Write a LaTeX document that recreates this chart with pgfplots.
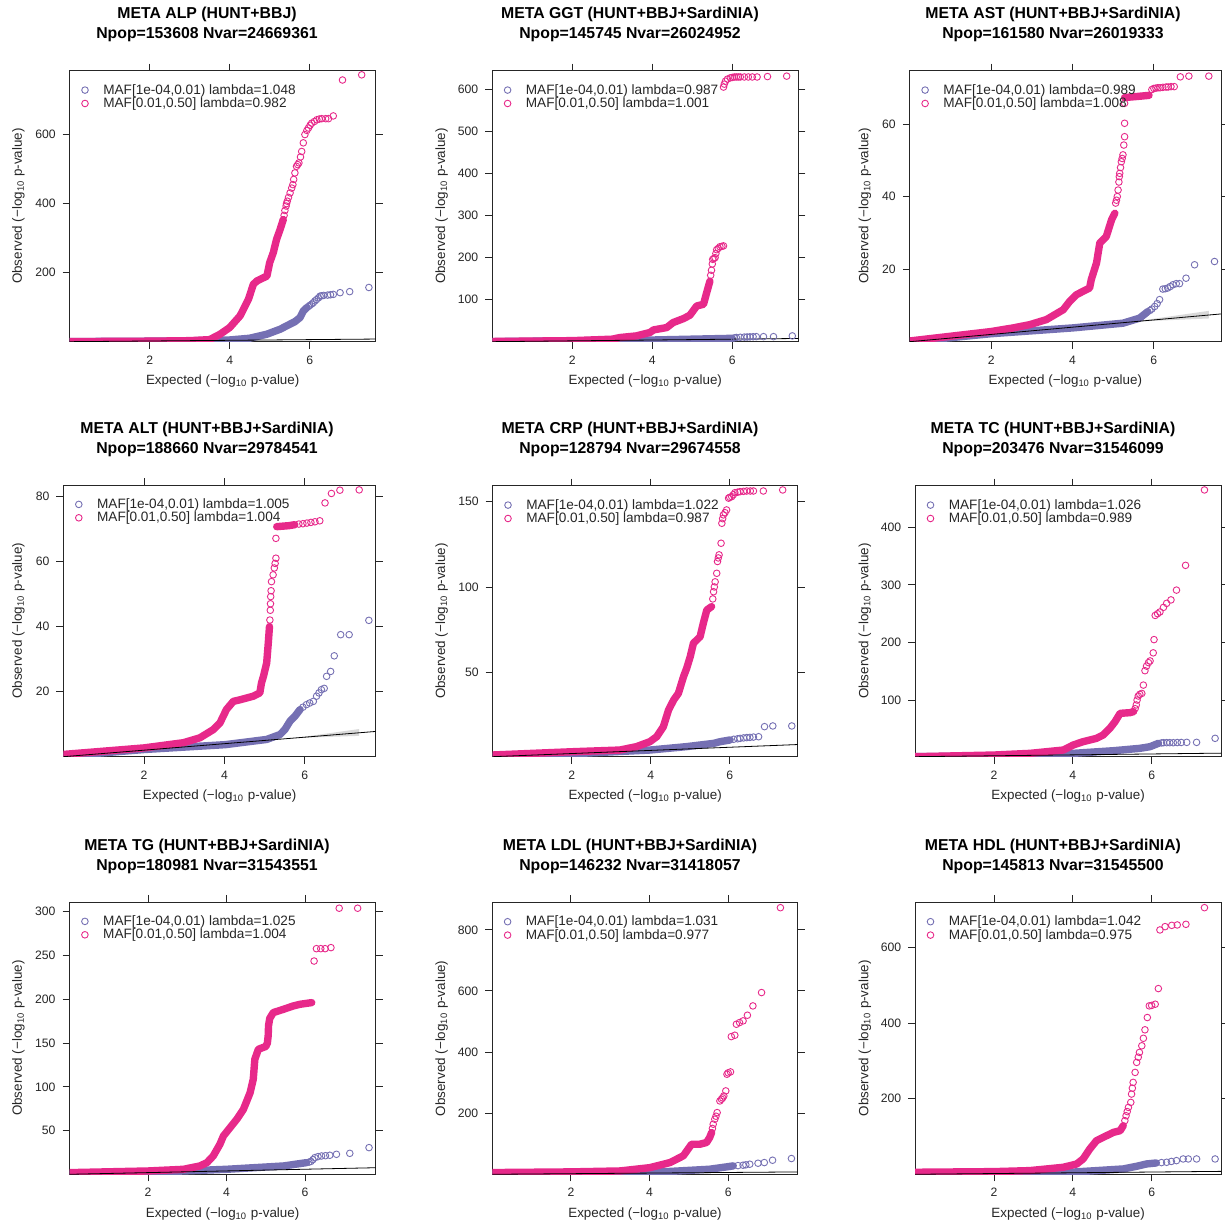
\documentclass[border=0pt]{standalone}
\usepackage{fontspec}
\setmainfont{Liberation Sans}
\usepackage{pgfplots}
\pgfplotsset{compat=1.18}
\definecolor{purp}{HTML}{7570B3}
\definecolor{pinkc}{HTML}{E7298A}
\pgfplotsset{
  qq/.style={
    scale only axis,
    xmin=0,
    xtick={2,4,6},
    tick align=outside,
    major tick length=3.5pt,
    tick style={black!85, line width=0.45pt},
    axis line style={black!85, line width=0.45pt},
    every tick label/.append style={font=\fontsize{6.1}{7}\selectfont, text=black!85},
    /pgf/number format/assume math mode=true,
    scaled ticks=false,
    xlabel={Expected (−log\textsubscript{10} p-value)},
    ylabel={Observed (−log\textsubscript{10} p-value)},
    label style={font=\fontsize{6.7}{8}\selectfont, text=black!85},
    xlabel style={at={(axis description cs:0.5,0)}, anchor=base, yshift=-21.65pt},
    ylabel style={at={(axis description cs:0,0.5)}, anchor=center},
    legend cell align=left,
    legend style={at={(axis description cs:0,1)}, anchor=north west, xshift=6pt, yshift=-6.9pt,
      draw=none, fill=none, inner sep=0pt, outer sep=0pt, row sep=0.5pt, column sep=7.5pt,
      font=\fontsize{6.8}{8}\selectfont, text=black!85,
      nodes={inner sep=0pt, text height=4.8pt, text depth=1.4pt}},
  },
  dense/.style={line width=3.7pt, line join=round, line cap=round, no marks},
  sparse/.style={only marks, mark=o, mark size=1.65pt, mark options={line width=0.45pt}},
  legimg/.style={legend image code/.code={\draw[mark repeat=1,##1] plot coordinates {(1.5pt,0.3pt)};}},
  refl/.style={black, line width=0.4pt, forget plot},
  band/.style={fill=black!15, draw=none, forget plot},
}
\begin{document}
\begin{tikzpicture}
\path[use as bounding box] (0,0) rectangle (612.5pt,613pt);
\tikzset{ttl/.style={anchor=base, font=\bfseries\fontsize{7.9}{9}\selectfont}}
% ---------- titles ----------
\node[ttl] at (103.5pt,603.85pt) {META ALP (HUNT+BBJ)};
\node[ttl] at (103.5pt,593.85pt) {Npop=153608 Nvar=24669361};
\node[ttl] at (315pt,603.85pt) {META GGT (HUNT+BBJ+SardiNIA)};
\node[ttl] at (315pt,593.85pt) {Npop=145745 Nvar=26024952};
\node[ttl] at (526.5pt,603.85pt) {META AST (HUNT+BBJ+SardiNIA)};
\node[ttl] at (526.5pt,593.85pt) {Npop=161580 Nvar=26019333};
\node[ttl] at (103.5pt,396pt) {META ALT (HUNT+BBJ+SardiNIA)};
\node[ttl] at (103.5pt,386.25pt) {Npop=188660 Nvar=29784541};
\node[ttl] at (315pt,396pt) {META CRP (HUNT+BBJ+SardiNIA)};
\node[ttl] at (315pt,386.25pt) {Npop=128794 Nvar=29674558};
\node[ttl] at (526.5pt,396pt) {META TC (HUNT+BBJ+SardiNIA)};
\node[ttl] at (526.5pt,386.25pt) {Npop=203476 Nvar=31546099};
\node[ttl] at (103.5pt,187.5pt) {META TG (HUNT+BBJ+SardiNIA)};
\node[ttl] at (103.5pt,177.5pt) {Npop=180981 Nvar=31543551};
\node[ttl] at (315pt,187.5pt) {META LDL (HUNT+BBJ+SardiNIA)};
\node[ttl] at (315pt,177.5pt) {Npop=146232 Nvar=31418057};
\node[ttl] at (526.5pt,187.5pt) {META HDL (HUNT+BBJ+SardiNIA)};
\node[ttl] at (526.5pt,177.5pt) {Npop=145813 Nvar=31545500};

% ---------- P1 ALP ----------
\begin{axis}[qq, at={(34.85pt,442.15pt)}, width=153pt, height=135.5pt, xmax=7.65, ymin=0, ymax=785,
  ytick={200,400,600}, ylabel style={yshift=25.7pt}]
\addplot[purp, dense, forget plot] coordinates {(0,0.3)(2,1.5)(3,2.5)(4,5)(4.5,10)(4.93,21.7)(5.26,36)(5.51,51)(5.63,58)(5.76,70)(5.84,89)(5.93,99)};
\addplot[purp, sparse, forget plot] coordinates {(5.97,102)(6.0,105)(6.05,109)(6.09,113)(6.13,118)(6.17,122)(6.22,127)(6.26,132)(6.3,133)(6.35,134)(6.45,135)(6.52,136)(6.59,137)(6.76,142)(7.0,145)(7.48,157)};
\addplot[pinkc, dense, forget plot] coordinates {(0,0.3)(1,0.8)(2,1.5)(3,3)(3.5,6)(3.76,21.7)(4.0,41)(4.26,75)(4.47,123)(4.59,166)(4.68,176)(4.93,190)(5.0,229)(5.09,258)(5.17,296)(5.26,325)(5.34,354)};
\addplot[pinkc, sparse, forget plot] coordinates {(5.36,366)(5.38,380)(5.41,393)(5.42,400)(5.44,407)(5.47,418)(5.51,431)(5.55,445)(5.58,455)(5.6,470)(5.63,489)(5.67,508)(5.7,513)(5.73,518)(5.77,535)(5.8,551)(5.84,576)(5.88,600)(5.93,612)(5.97,619)(6.01,627)(6.05,633)(6.12,638)(6.18,643)(6.24,645)(6.3,646)(6.4,646)(6.47,646)(6.59,654)(6.82,758)(7.3,773)};
\addplot[refl] coordinates {(0,0)(7.65,7.65)};
\addlegendimage{purp, sparse, legimg}\addlegendentry{MAF[1e-04,0.01) lambda=1.048}
\addlegendimage{pinkc, sparse, legimg}\addlegendentry{MAF[0.01,0.50] lambda=0.982}
\end{axis}

% ---------- P2 GGT ----------
\begin{axis}[qq, at={(246.15pt,442.15pt)}, width=153pt, height=135.5pt, xmax=7.65, ymin=0, ymax=645,
  ytick={100,200,300,400,500,600}, ylabel style={yshift=25.3pt}]
\addplot[purp, dense, forget plot] coordinates {(0,0.3)(2,2)(4,4)(5,6)(6,8)};
\addplot[purp, sparse, forget plot] coordinates {(6.05,9)(6.1,10)(6.2,10.5)(6.3,11)(6.37,11.2)(6.44,11.5)(6.52,11.8)(6.6,12)(6.78,12)(7.03,12)(7.5,13.8)};
\addplot[pinkc, dense, forget plot] coordinates {(0,0.5)(1,1.5)(2,2.5)(3,6)(3.19,9.9)(3.6,13.8)(3.94,21.8)(4.03,28)(4.36,33.6)(4.52,45.5)(4.78,55)(4.94,63)(5.11,85)(5.28,89)(5.36,117)(5.44,144)};
\addplot[pinkc, sparse, forget plot] coordinates {(5.46,158)(5.48,170)(5.5,185)(5.51,196)(5.54,198)(5.57,200)(5.59,210)(5.61,219)(5.65,222)(5.69,226)(5.74,227)(5.78,228)(5.78,606)(5.8,613)(5.83,620)(5.88,625)(5.95,628)(6.0,629)(6.05,630)(6.1,630)(6.15,630)(6.2,630)(6.3,630)(6.4,630)(6.5,630)(6.62,630)(6.88,631)(7.36,632)};
\addplot[refl] coordinates {(0,0)(7.65,7.65)};
\addlegendimage{purp, sparse, legimg}\addlegendentry{MAF[1e-04,0.01) lambda=0.987}
\addlegendimage{pinkc, sparse, legimg}\addlegendentry{MAF[0.01,0.50] lambda=1.001}
\end{axis}

% ---------- P3 AST ----------
\begin{axis}[qq, at={(454.9pt,442.15pt)}, width=155.6pt, height=135.5pt, xmax=7.65, ymin=0, ymax=74.7,
  ytick={20,40,60}, ylabel style={yshift=22.4pt}]
\addplot[band] coordinates {(5.7,5.6)(7.35,6.4)(7.35,8.5)(5.7,5.85)} -- cycle;
\addplot[purp, dense, forget plot] coordinates {(0,0)(2,2.2)(4.01,3.8)(5.24,5.1)(5.65,6.5)(5.85,8.3)};
\addplot[purp, sparse, forget plot] coordinates {(5.9,8.6)(5.95,9)(6.02,9.7)(6.08,10.5)(6.14,11.6)(6.22,14.5)(6.28,14.6)(6.34,14.8)(6.4,15.2)(6.47,15.7)(6.55,16)(6.63,16)(6.79,17.5)(7.0,21.2)(7.49,22.1)};
\addplot[pinkc, dense, forget plot] coordinates {(0,0.2)(1.31,1.9)(2,2.8)(2.54,3.8)(2.95,4.7)(3.36,6.1)(3.77,8.8)(3.93,11.1)(4.09,12.9)(4.26,13.9)(4.42,14.8)(4.46,17.1)(4.59,21.7)(4.67,27.2)(4.83,29)(4.96,33.6)(5.04,35.4)};
\addplot[pinkc, dense, forget plot] coordinates {(5.28,67.3)(5.6,67.6)(5.88,67.9)};
\addplot[pinkc, sparse, forget plot] coordinates {(5.06,38.2)(5.08,39)(5.1,40)(5.12,41.8)(5.14,44)(5.15,45.5)(5.16,46.4)(5.18,48)(5.2,49.6)(5.22,50.5)(5.24,51.5)(5.26,54.2)(5.28,56.5)(5.28,60.2)(5.28,65.7)(5.95,69.5)(6.0,69.8)(6.05,69.9)(6.1,70)(6.15,70)(6.22,70.1)(6.3,70.2)(6.35,70.2)(6.42,70.3)(6.5,70.3)(6.65,73)(6.86,73.2)(7.35,73.2)};
\addplot[refl] coordinates {(0,0)(7.65,7.65)};
\addlegendimage{purp, sparse, legimg}\addlegendentry{MAF[1e-04,0.01) lambda=0.989}
\addlegendimage{pinkc, sparse, legimg}\addlegendentry{MAF[0.01,0.50] lambda=1.008}
\end{axis}

% ---------- P4 ALT ----------
\begin{axis}[qq, at={(31.75pt,234.65pt)}, width=156.1pt, height=135.85pt, xmax=7.76, ymin=0, ymax=83.5,
  ytick={20,40,60,80}, ylabel style={yshift=22.6pt}]
\addplot[band] coordinates {(5.9,5.8)(7.35,6.4)(7.35,8.5)(5.9,6.0)} -- cycle;
\addplot[purp, dense, forget plot] coordinates {(0,0.2)(2,2.2)(4.02,3.7)(5.05,5.3)(5.38,6.8)(5.5,8.3)(5.63,10.9)(5.75,12.4)(5.88,14.5)};
\addplot[purp, sparse, forget plot] coordinates {(5.95,15.2)(6.04,16)(6.12,16.5)(6.21,17)(6.29,18.6)(6.35,19.6)(6.41,20.6)(6.48,21)(6.54,24.7)(6.64,26.2)(6.73,31)(6.89,37.5)(7.1,37.5)(7.59,41.9)};
\addplot[pinkc, dense, forget plot] coordinates {(0,0.7)(1,1.7)(2,2.7)(2.98,4.3)(3.39,5.8)(3.72,8.3)(3.89,10.4)(4.05,14.5)(4.22,17)(4.39,17.5)(4.72,18.6)(4.88,19.6)(4.92,22.6)(4.97,24.7)(5.05,28.8)(5.09,34.9)(5.12,40)};
\addplot[pinkc, dense, forget plot] coordinates {(5.3,70.7)(5.6,71)(5.75,71.3)};
\addplot[pinkc, sparse, forget plot] coordinates {(5.13,42)(5.14,45)(5.145,47)(5.15,49.2)(5.16,51)(5.17,53.8)(5.21,55.9)(5.24,58)(5.26,59.4)(5.28,61)(5.28,67.1)(5.85,71.5)(5.95,71.6)(6.05,71.8)(6.15,72)(6.25,72.2)(6.37,72.5)(6.5,78)(6.66,80.9)(6.87,81.9)(7.35,82)};
\addplot[refl] coordinates {(0,0)(7.76,7.76)};
\addlegendimage{purp, sparse, legimg}\addlegendentry{MAF[1e-04,0.01) lambda=1.005}
\addlegendimage{pinkc, sparse, legimg}\addlegendentry{MAF[0.01,0.50] lambda=1.004}
\end{axis}

% ---------- P5 CRP ----------
\begin{axis}[qq, at={(246.35pt,234.65pt)}, width=152.5pt, height=135.5pt, xmax=7.72, ymin=0.6, ymax=159.3,
  ytick={50,100,150}, ylabel style={yshift=25.5pt}]
\addplot[purp, dense, forget plot] coordinates {(0,0.8)(2,2.3)(3.98,4.5)(4.91,6.5)(5.59,8.4)(5.76,9.4)(6.01,10.4)};
\addplot[purp, sparse, forget plot] coordinates {(6.1,10.8)(6.2,11.1)(6.26,11.3)(6.35,11.6)(6.43,11.8)(6.51,11.9)(6.6,12.1)(6.73,12.3)(6.88,18.2)(7.09,18.6)(7.57,18.6)};
\addplot[pinkc, dense, forget plot] coordinates {(0,1.6)(2,3.5)(3.22,4.5)(3.64,6.5)(3.98,9.4)(4.15,12.3)(4.32,18.2)(4.45,27.9)(4.58,33.8)(4.7,37.7)(4.83,47.5)(4.91,52.4)(5.0,59.2)(5.08,67)(5.25,70.9)(5.33,78.7)(5.42,86.5)(5.54,88.5)};
\addplot[pinkc, sparse, forget plot] coordinates {(5.57,93)(5.59,97.2)(5.61,100)(5.63,103)(5.67,108)(5.69,114.9)(5.71,117)(5.73,118.8)(5.78,125.6)(5.8,137.3)(5.82,140)(5.84,142.2)(5.88,143.5)(5.92,145.1)(5.97,152)(6.0,152.5)(6.05,152.9)(6.09,154)(6.13,155.2)(6.2,155.5)(6.26,155.8)(6.35,156)(6.43,156.2)(6.52,156.2)(6.6,156.2)(6.85,156.2)(7.34,156.8)};
\addplot[refl] coordinates {(0,0.6)(7.72,7.72)};
\addlegendimage{purp, sparse, legimg}\addlegendentry{MAF[1e-04,0.01) lambda=1.022}
\addlegendimage{pinkc, sparse, legimg}\addlegendentry{MAF[0.01,0.50] lambda=0.987}
\end{axis}

% ---------- P6 TC ----------
\begin{axis}[qq, at={(457.6pt,234.65pt)}, width=152.9pt, height=135.5pt, xmax=7.76, ymin=1.6, ymax=472.4,
  ytick={100,200,300,400}, ylabel style={yshift=25.1pt}]
\addplot[purp, dense, forget plot] coordinates {(0,1.6)(2,3)(4.01,7.4)(5.03,12)(5.7,16.1)(5.96,19)(6.17,24.8)};
\addplot[purp, sparse, forget plot] coordinates {(6.25,25.5)(6.3,25.9)(6.38,26)(6.46,26)(6.55,25.9)(6.65,26.2)(6.75,26.3)(6.89,26.5)(7.14,26.5)(7.61,33.5)};
\addplot[pinkc, dense, forget plot] coordinates {(0,1.6)(2,4.5)(2.91,7.4)(3.76,13.2)(4.01,21.9)(4.26,27.7)(4.6,33.5)(4.77,39.3)(4.94,50.9)(5.07,62.4)(5.2,76.9)(5.45,78.1)(5.54,79.9)};
\addplot[pinkc, sparse, forget plot] coordinates {(5.58,85)(5.61,91.5)(5.63,100)(5.66,107)(5.7,110)(5.75,111.5)(5.79,126)(5.83,151)(5.87,159)(5.92,165)(5.96,168)(6.04,182)(6.06,205)(6.09,247)(6.15,250)(6.21,253)(6.3,261)(6.38,268)(6.49,274)(6.63,291)(6.86,334)(7.34,465)};
\addplot[refl] coordinates {(0,1.6)(7.76,7.76)};
\addlegendimage{purp, sparse, legimg}\addlegendentry{MAF[1e-04,0.01) lambda=1.026}
\addlegendimage{pinkc, sparse, legimg}\addlegendentry{MAF[0.01,0.50] lambda=0.989}
\end{axis}

% ---------- P7 TG ----------
\begin{axis}[qq, at={(34.8pt,25.85pt)}, width=153.05pt, height=136.15pt, xmax=7.80, ymin=0.3, ymax=310.7,
  ytick={50,100,150,200,250,300}, ylabel style={yshift=25.65pt}]
\addplot[purp, dense, forget plot] coordinates {(0,0.5)(2,2.5)(4,6)(5.45,9.8)(6.04,13.6)};
\addplot[purp, sparse, forget plot] coordinates {(6.1,14.2)(6.15,15)(6.2,17)(6.25,19.3)(6.33,20.5)(6.42,21.2)(6.52,21.5)(6.63,22)(6.8,23.1)(7.14,24.2)(7.63,30.7)};
\addplot[pinkc, dense, forget plot] coordinates {(0,2.2)(2,4.1)(2.9,6)(3.32,9.8)(3.5,13.6)(3.66,21.2)(3.83,34.5)(3.92,44)(4.09,53.5)(4.26,63)(4.43,74.4)(4.6,93.4)(4.68,108.6)(4.72,131.4)(4.81,142.8)(5.0,146)(5.04,150)(5.06,158)(5.07,170)(5.1,178)(5.19,184.6)(5.45,188.4)(5.7,192.2)(5.87,194.1)(6.17,196)};
\addplot[pinkc, sparse, forget plot] coordinates {(6.23,243.4)(6.29,257.5)(6.4,257.5)(6.51,257.5)(6.66,258.7)(6.87,303.6)(7.34,303.6)};
\addplot[refl] coordinates {(0,0.3)(7.8,7.8)};
\addlegendimage{purp, sparse, legimg}\addlegendentry{MAF[1e-04,0.01) lambda=1.025}
\addlegendimage{pinkc, sparse, legimg}\addlegendentry{MAF[0.01,0.50] lambda=1.004}
\end{axis}

% ---------- P8 LDL ----------
\begin{axis}[qq, at={(246.15pt,25.85pt)}, width=152.7pt, height=136pt, xmax=7.77, ymin=0, ymax=890,
  ytick={200,400,600,800}, ylabel style={yshift=25.3pt}]
\addplot[purp, dense, forget plot] coordinates {(0,1)(2,3)(4.01,5.7)(5.53,16.6)(5.96,24.3)(6.13,27.5)};
\addplot[purp, sparse, forget plot] coordinates {(6.25,28.5)(6.38,29.7)(6.45,31)(6.55,33)(6.76,36.2)(6.92,38.4)(7.13,46)(7.61,51.6)};
\addplot[pinkc, dense, forget plot] coordinates {(0,5.7)(2,7.9)(3.25,11)(4.01,21.8)(4.52,38.4)(4.86,60.5)(4.98,82.3)(5.07,98.4)(5.28,98.4)(5.45,103.9)(5.53,120.4)(5.58,136.8)};
\addplot[pinkc, sparse, forget plot] coordinates {(5.6,150)(5.62,163.9)(5.66,180.2)(5.69,190)(5.72,201.9)(5.79,240)(5.83,245.6)(5.86,250)(5.89,256.5)(5.94,272.9)(5.97,327.4)(6.0,332)(6.06,335)(6.08,450.6)(6.17,455)(6.21,491)(6.29,496.5)(6.38,502)(6.49,520.5)(6.63,551)(6.85,594.7)(7.33,872.4)};
\addplot[refl] coordinates {(0,0)(7.77,7.77)};
\addlegendimage{purp, sparse, legimg}\addlegendentry{MAF[1e-04,0.01) lambda=1.031}
\addlegendimage{pinkc, sparse, legimg}\addlegendentry{MAF[0.01,0.50] lambda=0.977}
\end{axis}

% ---------- P9 HDL ----------
\begin{axis}[qq, at={(457.6pt,25.85pt)}, width=152.9pt, height=136pt, xmax=7.76, ymin=0, ymax=720,
  ytick={200,400,600}, ylabel style={yshift=25.1pt}]
\addplot[purp, dense, forget plot] coordinates {(0,1)(2,3)(3.93,5.4)(5.28,14.2)(5.62,21.2)(5.87,27.4)(6.12,30)};
\addplot[purp, sparse, forget plot] coordinates {(6.25,31)(6.38,31.8)(6.5,34)(6.63,36.2)(6.8,40.6)(6.93,40.6)(7.14,40.6)(7.61,40.6)};
\addplot[pinkc, dense, forget plot] coordinates {(0,5.4)(2,7.1)(2.91,9.8)(3.76,18.6)(4.1,27.4)(4.26,40.6)(4.43,67)(4.6,89)(4.77,97.8)(5.03,111)(5.2,115.5)(5.28,128.7)};
\addplot[pinkc, sparse, forget plot] coordinates {(5.32,142)(5.35,155)(5.38,166)(5.41,177)(5.47,190.4)(5.49,212.4)(5.51,228)(5.53,243.3)(5.58,269.7)(5.62,296.2)(5.66,310)(5.69,322.6)(5.75,340.2)(5.79,360)(5.83,382.5)(5.89,415)(5.94,445.8)(6.0,447)(6.09,450.2)(6.17,491.6)(6.21,646.8)(6.34,655.6)(6.51,659)(6.65,660)(6.87,661.7)(7.34,705.8)};
\addplot[refl] coordinates {(0,0)(7.76,7.76)};
\addlegendimage{purp, sparse, legimg}\addlegendentry{MAF[1e-04,0.01) lambda=1.042}
\addlegendimage{pinkc, sparse, legimg}\addlegendentry{MAF[0.01,0.50] lambda=0.975}
\end{axis}
\end{tikzpicture}
\end{document}
